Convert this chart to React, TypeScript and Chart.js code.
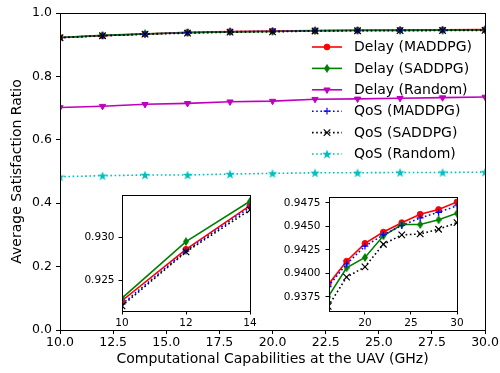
import React, { useEffect, useRef } from 'react';
import { Chart, registerables } from 'chart.js';

Chart.register(...registerables);

const FONT = 'DejaVu Sans';

// ---- data ----
const xValues = [10, 12, 14, 16, 18, 20, 22, 24, 26, 28, 30];
const delayMaddpg = [0.9226, 0.9286, 0.9337, 0.9388, 0.9413, 0.9432, 0.9444, 0.9454, 0.9463, 0.9468, 0.9476];
const delaySaddpg = [0.9229, 0.9295, 0.9342, 0.9375, 0.9406, 0.9417, 0.944, 0.9452, 0.9452, 0.9457, 0.9464];
const delayRandom = [0.702, 0.706, 0.712, 0.715, 0.72, 0.722, 0.728, 0.729, 0.731, 0.733, 0.735];
const qosMaddpg = [0.9222, 0.9284, 0.9335, 0.9386, 0.941, 0.9429, 0.9441, 0.9451, 0.9459, 0.9465, 0.9472];
const qosSaddpg = [0.922, 0.9283, 0.9332, 0.9365, 0.9396, 0.9407, 0.9431, 0.9441, 0.9442, 0.9447, 0.9454];
const qosRandom = [0.4836, 0.4867, 0.489, 0.489, 0.492, 0.494, 0.496, 0.496, 0.497, 0.497, 0.498];

const seriesLabels = [
  'Delay (MADDPG)',
  'Delay (SADDPG)',
  'Delay (Random)',
  'QoS (MADDPG)',
  'QoS (SADDPG)',
  'QoS (Random)',
];

const mainXTicks = [10, 12.5, 15, 17.5, 20, 22.5, 25, 27.5, 30];
const mainYTicks = [0, 0.2, 0.4, 0.6, 0.8, 1.0];
const inset1XTicks = [10, 12, 14];
const inset1YTicks = [0.925, 0.93];
const inset2XTicks = [20, 25, 30];
const inset2YTicks = [0.9375, 0.94, 0.9425, 0.945, 0.9475];

const xTitle = 'Computational Capabilities at the UAV (GHz)';
const yTitle = 'Average Satisfaction Ratio';

// ---- marker images ----
function makeStar(color: string, size: number) {
  const c = document.createElement('canvas');
  c.width = size;
  c.height = size;
  const ctx = c.getContext('2d')!;
  ctx.fillStyle = color;
  ctx.beginPath();
  const cx = size / 2, cy = size / 2 + 0.4, R = size / 2, r = R * 0.4;
  for (let i = 0; i < 10; i++) {
    const a = -Math.PI / 2 + (i * Math.PI) / 5;
    const rad = i % 2 === 0 ? R : r;
    ctx.lineTo(cx + rad * Math.cos(a), cy + rad * Math.sin(a));
  }
  ctx.closePath();
  ctx.fill();
  return c;
}

function makeDiamond(color: string, w: number, h: number) {
  const c = document.createElement('canvas');
  c.width = w;
  c.height = h;
  const ctx = c.getContext('2d')!;
  ctx.fillStyle = color;
  ctx.beginPath();
  ctx.moveTo(w / 2, 0);
  ctx.lineTo(w, h / 2);
  ctx.lineTo(w / 2, h);
  ctx.lineTo(0, h / 2);
  ctx.closePath();
  ctx.fill();
  return c;
}

const toPts = (ys: number[]) => xValues.map((x, i) => ({ x, y: ys[i] }));

function buildDatasets() {
  const star = makeStar('#00bfbf', 10);
  const diamond = makeDiamond('#008000', 6, 9);
  const base = { fill: false, tension: 0, borderWidth: 1.6 };
  const specs = [
    { data: delayMaddpg, color: '#ff0000', pointStyle: 'circle', pointRadius: 2.9, dash: [] as number[], rot: 0, pbw: 1 },
    { data: delaySaddpg, color: '#008000', pointStyle: diamond, pointRadius: 4, dash: [], rot: 0, pbw: 0 },
    { data: delayRandom, color: '#bf00bf', pointStyle: 'triangle', pointRadius: 3.6, dash: [], rot: 180, pbw: 1 },
    { data: qosMaddpg, color: '#0000ff', pointStyle: 'cross', pointRadius: 3.4, dash: [1.6, 2.6], rot: 0, pbw: 1.2 },
    { data: qosSaddpg, color: '#000000', pointStyle: 'crossRot', pointRadius: 4.6, dash: [1.6, 2.6], rot: 0, pbw: 1.2 },
    { data: qosRandom, color: '#00bfbf', pointStyle: star, pointRadius: 5, dash: [1.6, 2.6], rot: 0, pbw: 0 },
  ];
  return specs.map((s, i) => ({
    ...base,
    label: seriesLabels[i],
    data: toPts(s.data),
    borderColor: s.color,
    backgroundColor: s.color,
    pointBackgroundColor: s.color,
    pointBorderColor: s.color,
    pointBorderWidth: s.pbw,
    pointStyle: s.pointStyle as any,
    pointRadius: s.pointRadius,
    pointRotation: s.rot,
    borderDash: s.dash,
    order: 10 - i,
  }));
}

type AxisSpec = {
  min: number;
  max: number;
  ticks: number[];
  decimals: number;
  size: number;
  fontSize: number;
  tickLen: number;
  pad: number;
  title?: string;
  titlePad?: any;
};

function axis(spec: AxisSpec, isX: boolean) {
  return {
    type: 'linear',
    position: isX ? 'bottom' : 'left',
    min: spec.min,
    max: spec.max,
    afterBuildTicks: (s: any) => {
      s.ticks = spec.ticks.map((v) => ({ value: v }));
    },
    afterFit: (s: any) => {
      if (isX) s.height = spec.size;
      else s.width = spec.size;
    },
    ticks: {
      font: { family: FONT, size: spec.fontSize },
      color: '#000',
      padding: spec.pad,
      maxRotation: 0,
      minRotation: 0,
      autoSkip: false,
      callback: (v: any) => Number(v).toFixed(spec.decimals),
    },
    grid: {
      drawOnChartArea: false,
      drawTicks: true,
      tickLength: spec.tickLen,
      color: '#000',
      lineWidth: 1,
    },
    border: { display: true, color: '#000', width: 1 },
    title: spec.title
      ? { display: true, text: spec.title, font: { family: FONT, size: 14 }, color: '#000', padding: spec.titlePad }
      : { display: false },
  };
}

const framePlugin = {
  id: 'frame',
  beforeDraw(chart: any) {
    const { ctx, chartArea } = chart;
    const { left, top, right, bottom } = chartArea;
    ctx.save();
    ctx.fillStyle = '#ffffff';
    ctx.fillRect(left, top, right - left, bottom - top);
    ctx.restore();
  },
  afterDatasetsDraw(chart: any) {
    const { ctx, chartArea } = chart;
    const { left, top, right, bottom } = chartArea;
    ctx.save();
    ctx.strokeStyle = '#000';
    ctx.lineWidth = 1;
    ctx.setLineDash([]);
    const l = Math.round(left) + 0.5, t = Math.round(top) + 0.5;
    ctx.strokeRect(l, t, Math.round(right) - Math.round(left), Math.round(bottom) - Math.round(top));
    ctx.restore();
  },
};

function drawMarker(ctx: CanvasRenderingContext2D, ds: any, x: number, y: number) {
  const st = ds.pointStyle;
  const r = ds.pointRadius;
  ctx.save();
  ctx.setLineDash([]);
  ctx.fillStyle = ds.pointBackgroundColor;
  ctx.strokeStyle = ds.pointBorderColor;
  ctx.lineWidth = ds.pointBorderWidth;
  if (typeof st !== 'string') {
    ctx.drawImage(st, x - st.width / 2, y - st.height / 2);
  } else if (st === 'circle') {
    ctx.beginPath();
    ctx.arc(x, y, r, 0, Math.PI * 2);
    ctx.fill();
    ctx.stroke();
  } else if (st === 'triangle') {
    ctx.beginPath();
    let a = Math.PI; // rotated 180
    for (let k = 0; k < 3; k++) {
      ctx.lineTo(x + Math.sin(a) * r, y - Math.cos(a) * r);
      a += (2 * Math.PI) / 3;
    }
    ctx.closePath();
    ctx.fill();
    ctx.stroke();
  } else if (st === 'cross') {
    ctx.beginPath();
    ctx.moveTo(x - r, y);
    ctx.lineTo(x + r, y);
    ctx.moveTo(x, y - r);
    ctx.lineTo(x, y + r);
    ctx.stroke();
  } else if (st === 'crossRot') {
    const d = r * Math.SQRT1_2;
    ctx.beginPath();
    ctx.moveTo(x - d, y - d);
    ctx.lineTo(x + d, y + d);
    ctx.moveTo(x - d, y + d);
    ctx.lineTo(x + d, y - d);
    ctx.stroke();
  }
  ctx.restore();
}

const legendPlugin = {
  id: 'customLegend',
  afterDraw(chart: any) {
    const { ctx } = chart;
    const datasets = chart.data.datasets;
    const lineX0 = 312, lineX1 = 342, textX = 354, top0 = 47, step = 21.4;
    ctx.save();
    datasets.forEach((ds: any, i: number) => {
      const y = top0 + i * step;
      ctx.strokeStyle = ds.borderColor;
      ctx.lineWidth = ds.borderWidth;
      ctx.setLineDash(ds.borderDash || []);
      ctx.beginPath();
      ctx.moveTo(lineX0, y);
      ctx.lineTo(lineX1, y);
      ctx.stroke();
      drawMarker(ctx, ds, (lineX0 + lineX1) / 2, y);
      ctx.setLineDash([]);
      ctx.fillStyle = '#000';
      ctx.font = `14px '${FONT}'`;
      ctx.textBaseline = 'middle';
      ctx.textAlign = 'left';
      ctx.fillText(ds.label, textX, y + 0.5);
    });
    ctx.restore();
  },
};

function baseOptions(padding: any, xs: any, ys: any) {
  return {
    animation: false,
    responsive: false,
    maintainAspectRatio: false,
    devicePixelRatio: 1,
    events: [],
    layout: { padding },
    plugins: { legend: { display: false }, tooltip: { enabled: false } },
    scales: { x: xs, y: ys },
  };
}

function mainConfig(): any {
  return {
    type: 'line',
    data: { datasets: buildDatasets() },
    options: baseOptions(
      { left: 0, top: 13, right: 14, bottom: 0 },
      axis({ min: 10, max: 30, ticks: mainXTicks, decimals: 1, size: 43, fontSize: 12.5, tickLen: 4, pad: 1, title: xTitle, titlePad: { top: 0, bottom: 5 } }, true),
      axis({ min: 0, max: 1, ticks: mainYTicks, decimals: 1, size: 60, fontSize: 12.5, tickLen: 4, pad: 4, title: yTitle, titlePad: { top: 9, bottom: 0 } }, false)
    ),
    plugins: [framePlugin, legendPlugin],
  };
}

function inset1Config(): any {
  return {
    type: 'line',
    data: { datasets: buildDatasets() },
    options: baseOptions(
      { left: 0, top: 10, right: 10, bottom: 0 },
      axis({ min: 10, max: 14, ticks: inset1XTicks, decimals: 0, size: 19, fontSize: 10.5, tickLen: 3.5, pad: 2, }, true),
      axis({ min: 0.9214, max: 0.9349, ticks: inset1YTicks, decimals: 3, size: 42, fontSize: 10.5, tickLen: 3.5, pad: 4 }, false)
    ),
    plugins: [framePlugin],
  };
}

function inset2Config(): any {
  return {
    type: 'line',
    data: { datasets: buildDatasets() },
    options: baseOptions(
      { left: 0, top: 10, right: 13, bottom: 0 },
      axis({ min: 16.09, max: 30, ticks: inset2XTicks, decimals: 0, size: 20, fontSize: 10.5, tickLen: 3.5, pad: 2 }, true),
      axis({ min: 0.936, max: 0.9481, ticks: inset2YTicks, decimals: 4, size: 54, fontSize: 10.5, tickLen: 3.5, pad: 5 }, false)
    ),
    plugins: [framePlugin],
  };
}

export default function App() {
  const mainRef = useRef<HTMLCanvasElement>(null);
  const in1Ref = useRef<HTMLCanvasElement>(null);
  const in2Ref = useRef<HTMLCanvasElement>(null);

  useEffect(() => {
    Chart.defaults.font.family = FONT;
    const charts = [
      new Chart(mainRef.current!, mainConfig()),
      new Chart(in1Ref.current!, inset1Config()),
      new Chart(in2Ref.current!, inset2Config()),
    ];
    return () => charts.forEach((c) => c.destroy());
  }, []);

  return (
    <div style={{ position: 'absolute', left: 0, top: 0, width: 500, height: 373, background: '#fff', overflow: 'hidden' }}>
      <canvas ref={mainRef} width={500} height={373} style={{ position: 'absolute', left: 0, top: 0, width: 500, height: 373 }} />
      <canvas ref={in1Ref} width={180} height={145} style={{ position: 'absolute', left: 80, top: 185, width: 180, height: 145 }} />
      <canvas ref={in2Ref} width={195} height={145} style={{ position: 'absolute', left: 275, top: 186, width: 195, height: 145 }} />
    </div>
  );
}
